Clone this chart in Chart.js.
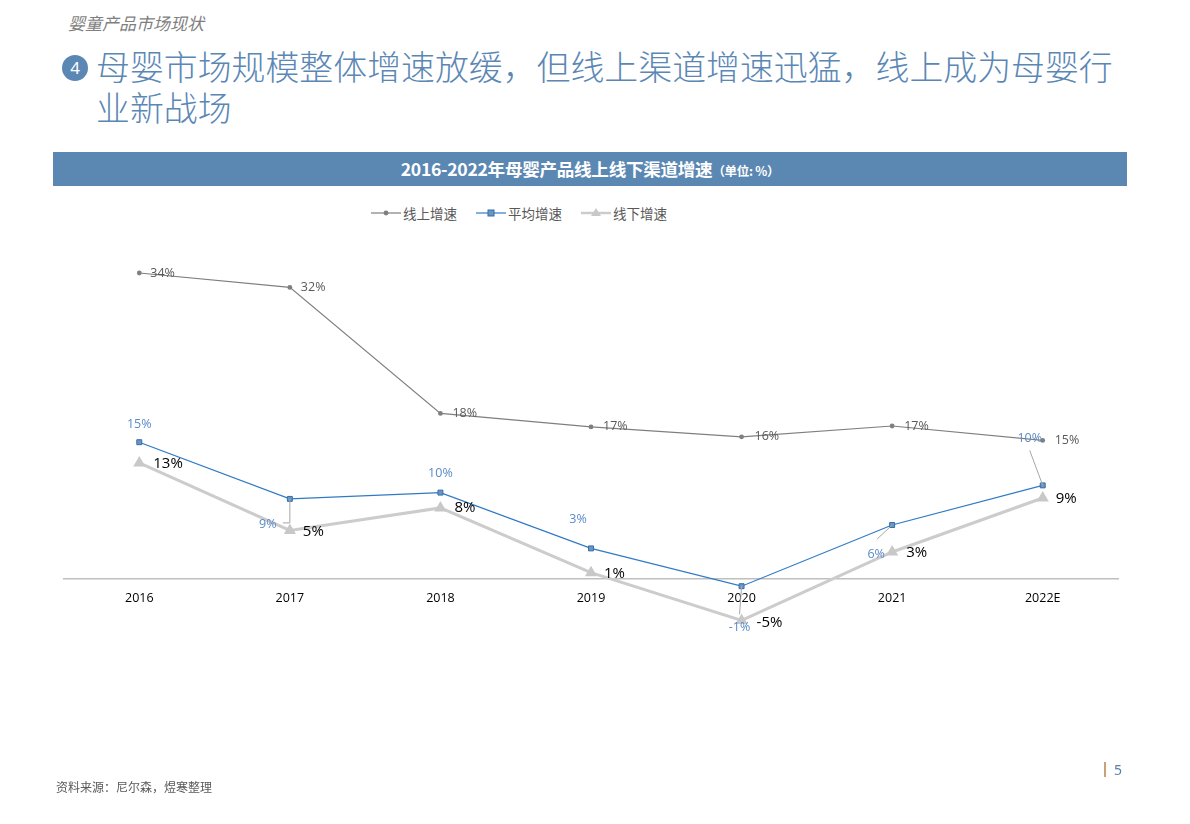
<!DOCTYPE html>
<html>
<head>
<meta charset="utf-8">
<script src="https://cdn.jsdelivr.net/npm/chart.js@4/dist/chart.umd.min.js"></script>
<style>
  html,body{margin:0;padding:0;background:#fff;}
  body{width:1190px;height:824px;position:relative;overflow:hidden;font-family:"Noto Sans CJK SC","Noto Sans",sans-serif;}
  #sub{position:absolute;left:68px;top:10px;font-size:17px;font-style:italic;color:#7f7f7f;}
  #num{position:absolute;left:62px;top:55px;width:26px;height:26px;border-radius:50%;background:#5b87b5;color:#fff;font-family:"Noto Sans",sans-serif;font-size:17px;line-height:26px;text-align:center;}
  #title{position:absolute;left:96px;top:45px;font-size:33.9px;line-height:41px;color:#5b87b5;white-space:nowrap;font-weight:300;}
  #banner{position:absolute;left:53px;top:152px;width:1074px;height:34px;background:#5b88b3;color:#fff;text-align:center;line-height:34px;font-weight:bold;font-size:17.6px;letter-spacing:-0.3px;}
  #banner small{font-size:12.5px;}
  #legend{position:absolute;top:203px;left:0;width:1190px;height:20px;font-size:13.5px;color:#595959;}
  .li{position:absolute;top:0;height:20px;line-height:20px;}
  .li svg{position:absolute;left:0;top:0;}
  .li span{position:absolute;left:33px;top:0;white-space:nowrap;}
  #wrap{position:absolute;left:0;top:0;width:1190px;height:824px;}
  #src{position:absolute;left:56px;top:778px;font-size:12px;color:#595959;}
  #page{position:absolute;left:1104px;top:760px;font-size:14px;color:#5b7fa6;font-family:"Noto Sans",sans-serif;}
  #page i{display:inline-block;width:2px;height:15px;background:#c9a27a;vertical-align:-2px;margin-right:8px;}
</style>
</head>
<body>
<div id="sub">婴童产品市场现状</div>
<div id="num">4</div>
<div id="title">母婴市场规模整体增速放缓，但线上渠道增速迅猛，线上成为母婴行<br>业新战场</div>
<div id="banner">2016-2022年母婴产品线上线下渠道增速<small>（单位: %）</small></div>
<div id="legend">
  <div class="li" style="left:370px;"><svg width="32" height="20"><line x1="1" y1="10" x2="31" y2="10" stroke="#7f7f7f" stroke-width="1.2"/><circle cx="16" cy="10" r="2.4" fill="#7f7f7f"/></svg><span>线上增速</span></div>
  <div class="li" style="left:475px;"><svg width="32" height="20"><line x1="1" y1="10" x2="31" y2="10" stroke="#2f7ac4" stroke-width="1.2"/><rect x="13" y="7" width="6" height="6" fill="#6f95bd" stroke="#2f6fb0" stroke-width="1"/></svg><span>平均增速</span></div>
  <div class="li" style="left:580px;"><svg width="32" height="20"><line x1="1" y1="10" x2="31" y2="10" stroke="#cccccc" stroke-width="2.5"/><polygon points="16,5 21,13 11,13" fill="#c8c8c8"/></svg><span>线下增速</span></div>
</div>
<div id="wrap"><canvas id="c" width="1190" height="824"></canvas></div>
<div id="src">资料来源：尼尔森，煜寒整理</div>
<div id="page"><i></i>5</div>
<script>
// ---- data ----
const categories = ["2016","2017","2018","2019","2020","2021","2022E"];
const onlineGrowth  = [34, 32.4, 18.4, 16.9, 15.8, 17, 15.4];
const averageGrowth = [15.2, 8.9, 9.6, 3.4, -0.8, 6, 10.4];
const offlineGrowth = [12.9, 5.4, 7.9, 0.7, -4.6, 3, 9];
const seriesNames = ["线上增速","平均增速","线下增速"];

// ---- label placement (relative to each point, in px) ----
const onlineLabelOffset  = [[11,0],[11,0],[12,0],[12,0],[13,0],[12,0],[12,0]];
const offlineLabelOffset = [[14,1],[13,1],[14,0],[13,1],[15,2],[14,1],[13,1]];
const averageLabelOffset = [[0,-18],[-22,26],[0,-19],[-13,-29],[-2,41],[-16,29],[-13,-47]];
const averageLeaders = [null, [[0,0],[0,24],[-7,24]], null, null, [[0,0],[-2,28]], [[0,0],[-15,14]], [[0,0],[-13,-35]]];

const labelPlugin = {
  id: 'labels',
  afterDatasetsDraw(chart) {
    const ctx = chart.ctx;
    ctx.save();
    const mAvg = chart.getDatasetMeta(1);
    ctx.strokeStyle = '#a6a6a6'; ctx.lineWidth = 1;
    mAvg.data.forEach((p, i) => {
      const L = averageLeaders[i];
      if (!L) return;
      ctx.beginPath();
      L.forEach((o, k) => { const x = p.x + o[0], y = p.y + o[1]; k ? ctx.lineTo(x, y) : ctx.moveTo(x, y); });
      ctx.stroke();
    });
    ctx.textBaseline = 'middle';
    ctx.font = '12.5px "Open Sans", "Noto Sans", sans-serif';
    ctx.fillStyle = '#595959'; ctx.textAlign = 'left';
    chart.getDatasetMeta(0).data.forEach((p, i) => {
      ctx.fillText(Math.round(onlineGrowth[i]) + '%', p.x + onlineLabelOffset[i][0], p.y + onlineLabelOffset[i][1]);
    });
    ctx.fillStyle = '#5a8ac6'; ctx.textAlign = 'center';
    mAvg.data.forEach((p, i) => {
      ctx.fillText(Math.round(averageGrowth[i]) + '%', p.x + averageLabelOffset[i][0], p.y + averageLabelOffset[i][1]);
    });
    ctx.font = '15px "Open Sans", "Noto Sans", sans-serif';
    ctx.fillStyle = '#000000'; ctx.textAlign = 'left';
    chart.getDatasetMeta(2).data.forEach((p, i) => {
      ctx.fillText(Math.round(offlineGrowth[i]) + '%', p.x + offlineLabelOffset[i][0], p.y + offlineLabelOffset[i][1]);
    });
    ctx.restore();
  }
};

new Chart(document.getElementById('c'), {
  type: 'line',
  data: {
    labels: categories,
    datasets: [
      { label: seriesNames[0], data: onlineGrowth, borderColor: '#7f7f7f', borderWidth: 1.2,
        pointStyle: 'circle', pointRadius: 2.4, pointBackgroundColor: '#7f7f7f', pointBorderWidth: 0, tension: 0 },
      { label: seriesNames[1], data: averageGrowth, borderColor: '#2f7ac4', borderWidth: 1.2,
        pointStyle: 'rect', pointRadius: 3.5, pointBackgroundColor: '#6f95bd', pointBorderColor: '#2f6fb0', pointBorderWidth: 1, tension: 0 },
      { label: seriesNames[2], data: offlineGrowth, borderColor: '#cccccc', borderWidth: 3,
        pointStyle: 'triangle', pointRadius: 7, pointBackgroundColor: '#c8c8c8', pointBorderWidth: 0, tension: 0 }
    ]
  },
  options: {
    responsive: false,
    animation: false,
    layout: { padding: { left: 64, right: 72, top: 219, bottom: 155 } },
    plugins: { legend: { display: false }, tooltip: { enabled: false } },
    scales: {
      x: {
        position: { y: 0 },
        offset: true,
        grid: { display: false },
        border: { display: true, color: '#bfbfbf', width: 1.5 },
        ticks: { color: '#000', padding: 4, font: { size: 12.5, family: '"Open Sans", "Noto Sans", sans-serif' } }
      },
      y: { display: false, min: -10, max: 40 }
    }
  },
  plugins: [labelPlugin]
});
</script>
</body>
</html>
